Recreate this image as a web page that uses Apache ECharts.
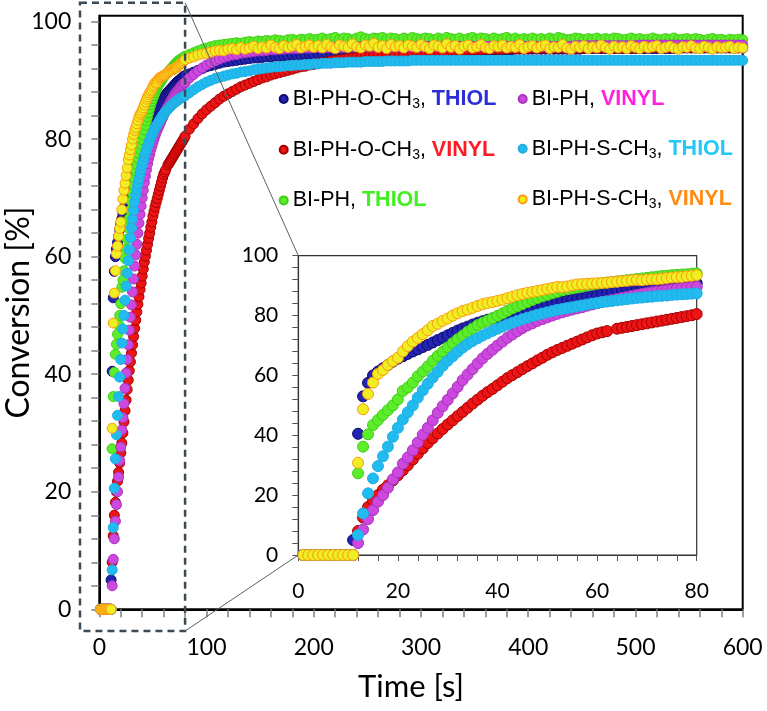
<!DOCTYPE html>
<html>
<head>
<meta charset="utf-8">
<script src="https://cdn.jsdelivr.net/npm/echarts@6/dist/echarts.min.js"></script>
<style>
html,body{margin:0;padding:0;background:#fff;}
#chart{width:767px;height:711px;}
</style>
</head>
<body>
<div id="chart"></div>
<script>
// ---------- DATA ----------
// sample times: 1..80 s every 1 s (zoomed region), then 84..600 s every 4 s
const timesEarly = [];
for (let t = 1; t <= 80; t++) timesEarly.push(t);
const timesLate = [];
for (let t = 84; t <= 600; t += 4) timesLate.push(t);

const seriesNames = ['BI-PH-O-CH3, THIOL','BI-PH-O-CH3, VINYL','BI-PH, THIOL','BI-PH, VINYL','BI-PH-S-CH3, THIOL','BI-PH-S-CH3, VINYL'];
const labelBase = ['BI-PH-O-CH','BI-PH-O-CH','BI-PH','BI-PH','BI-PH-S-CH','BI-PH-S-CH'];
const labelSub  = ['3','3','','','3','3'];
const labelTag  = ['THIOL','VINYL','THIOL','VINYL','THIOL','VINYL'];

const xTickLabels = [0,100,200,300,400,500,600];
const yTickLabels = [0,20,40,60,80,100];
const insetXTickLabels = [0,20,40,60,80];
const insetYTickLabels = [0,20,40,60,80,100];

// BI-PH-O-CH3, THIOL (blue)
const oThiolEarly = [0,0,0,0,0,0,0,0,0,0,5,40.5,53,57.5,60,61.3,62.4,63.5,64.6,65.6,66.4,67.2,68,68.7,69.5,70.2,71,71.8,72.6,73.4,74.2,75,75.7,76.3,77,77.6,78.1,78.6,79,79.4,79.8,80.2,80.7,81.1,81.6,82,82.5,82.9,83.3,83.7,84,84.3,84.6,84.9,85.2,85.5,85.8,86.2,86.5,86.9,87.2,87.5,87.8,88,88.2,88.4,88.6,88.8,89,89.2,89.4,89.6,89.8,89.9,90.1,90.2,90.4,90.5,90.7,90.8];
const oThiolLate = [91.1,91.4,91.7,92.0,92.3,92.5,92.7,92.9,93.1,93.2,
 93.3,93.4,93.5,93.6,93.7,93.8,93.8,93.9,94.0,94.0,94.1,94.1,94.2,94.2,94.3,94.3,94.3,94.4,94.4,94.4,
 94.5,94.5,94.5,94.6,94.6,94.6,94.6,94.7,94.7,94.7,94.7,94.7,94.8,94.8,94.8,94.8,94.8,94.9,94.9,94.9,94.9,94.9,94.9,95.0,95.0,
 95.0,95.0,95.0,95.0,95.1,95.1,95.1,95.1,95.1,95.1,95.1,95.1,95.2,95.2,95.2,95.2,95.2,95.2,95.2,95.2,95.2,95.3,95.3,95.3,95.3,
 95.3,95.3,95.3,95.3,95.3,95.3,95.3,95.3,95.3,95.3,95.3,95.3,95.4,95.4,95.4,95.4,95.4,95.4,95.4,95.4,95.4,95.4,95.4,95.4,95.4,
 95.4,95.4,95.4,95.4,95.4,95.4,95.4,95.4,95.4,95.4,95.5,95.5,95.5,95.5,95.5,95.5,95.5,95.5,95.5,95.5,95.5,95.5,95.5,95.5,95.5];

// BI-PH-O-CH3, VINYL (red)
const oVinylEarly = [0,0,0,0,0,0,0,0,0,0,0,8,12.5,16,18.2,20,21.8,23.3,24.9,26.6,28.3,30,31.9,33.8,35.6,37.4,39,40.6,42.1,43.6,45,46.4,47.8,49.2,50.6,51.9,53.2,54.4,55.5,56.7,57.9,59.1,60.1,61.1,62.1,63.1,64,65,65.9,66.9,67.7,68.5,69.2,69.9,70.6,71.3,72,72.7,73.4,74,74.4,74.8,null,75.6,75.9,76.2,76.5,76.8,77.1,77.4,77.7,78,78.3,78.6,78.9,79.2,79.5,79.8,80.1,80.5];
const oVinylLate = [81.7,82.6,83.5,84.3,85.0,85.6,86.2,86.8,87.3,87.7,
 88.1,88.5,88.9,89.2,89.5,89.8,90.1,90.4,90.6,90.9,91.1,91.3,91.5,91.7,91.9,92.1,92.3,92.4,92.6,92.7,
 92.9,93.0,93.1,93.3,93.4,93.5,93.6,93.7,93.8,93.9,94.0,94.0,94.1,94.2,94.3,94.3,94.4,94.5,94.5,94.6,94.6,94.7,94.7,94.8,94.8,
 94.9,94.9,94.9,95.0,95.0,95.0,95.1,95.1,95.1,95.1,95.2,95.2,95.2,95.2,95.3,95.3,95.3,95.3,95.3,95.4,95.4,95.4,95.4,95.4,95.4,
 95.5,95.5,95.5,95.5,95.5,95.5,95.5,95.5,95.5,95.5,95.5,95.5,95.5,95.5,95.5,95.5,95.5,95.5,95.5,95.5,95.5,95.5,95.5,95.5,95.5,
 95.6,95.6,95.6,95.6,95.6,95.6,95.6,95.6,95.6,95.6,95.6,95.6,95.6,95.6,95.6,95.6,95.6,95.6,95.6,95.6,95.6,95.6,95.6,95.6,95.6];

// BI-PH, THIOL (green)
const phThiolEarly = [0,0,0,0,0,0,0,0,0,0,0,27.3,36.2,40.3,43.4,45.1,46.8,48.4,50,52,54.8,56,57.6,59.7,61.3,63,64.9,66.5,67.9,69.4,70.8,72.1,73.3,74.6,75.7,76.8,77.6,78.3,79.1,79.9,80.7,81.6,82.4,83.1,83.8,84.5,85.2,85.8,86.4,86.9,87.4,87.9,88.4,88.8,89.1,89.4,89.7,90,90.3,90.6,90.8,91,91.2,91.4,91.6,91.8,92,92.2,92.4,92.6,92.8,93,93.2,93.3,93.5,93.6,93.7,93.8,94,94.1];
const phThiolLate = [94.4,94.7,95.0,95.3,95.5,95.7,95.9,96.0,96.1,96.2,
 96.3,96.4,96.3,96.5,96.6,96.5,96.7,96.6,96.8,96.7,96.9,96.8,96.7,96.9,97.0,96.8,97.0,96.9,97.1,96.9,
 97.0,97.2,96.9,97.1,97.3,97.0,97.2,97.1,96.9,97.2,97.4,97.1,97.0,97.2,97.1,97.3,97.0,97.2,97.1,96.9,97.2,97.0,97.3,97.1,97.0,
 97.2,97.1,96.9,97.2,97.0,97.3,97.1,97.0,97.2,96.9,97.1,97.3,97.0,97.2,97.1,96.9,97.2,97.0,97.1,97.3,97.0,97.2,96.9,97.1,97.0,
 97.2,97.0,97.1,96.9,97.2,97.0,97.3,97.1,96.9,97.0,97.2,97.1,96.9,97.1,97.0,97.2,96.9,97.1,97.0,97.2,97.1,96.9,97.0,97.2,97.0,
 97.1,96.9,97.0,97.2,97.0,96.9,97.1,97.0,97.2,96.9,97.0,97.1,96.9,97.1,97.0,96.8,97.0,97.1,96.9,97.0,96.8,97.0,96.9,97.0,96.9];

// BI-PH, VINYL (magenta)
const phVinylEarly = [0,0,0,0,0,0,0,0,0,0,0,4,8.5,12,15,17.8,20,22.5,25.3,27.6,30.5,32.6,35,37.6,40.2,42.5,45,47.5,49.7,51.8,54,56.2,58.4,60.3,62.1,64,65.7,67.2,68.6,70,71.3,72.6,73.7,74.8,75.8,76.7,77.4,78.2,78.8,79.4,80,80.6,81.1,81.6,82,82.4,82.8,83.3,83.7,84.1,84.5,84.8,85.2,85.5,85.9,86.2,86.6,86.9,87.2,87.5,87.8,88,88.2,88.5,88.7,88.9,89.1,89.3,89.5,89.6];
const phVinylLate = [90.4,91.0,91.6,92.1,92.6,93.0,93.3,93.6,93.9,94.1,
 94.3,94.4,94.6,94.7,94.8,94.9,95.0,95.0,95.1,95.2,95.2,95.3,95.3,95.4,95.4,95.4,95.5,95.5,95.5,95.6,
 95.6,95.6,95.6,95.6,95.6,95.6,95.6,95.6,95.7,95.7,95.7,95.7,95.7,95.7,95.7,95.7,95.7,95.7,95.7,95.7,95.7,95.7,95.7,95.7,95.7,
 95.8,95.8,95.8,95.8,95.8,95.8,95.8,95.8,95.8,95.8,95.8,95.8,95.8,95.8,95.8,95.8,95.8,95.8,95.8,95.8,95.8,95.8,95.8,95.8,95.8,
 95.8,95.8,95.8,95.8,95.8,95.8,95.8,95.8,95.8,95.8,95.9,95.9,95.9,95.9,95.9,95.9,95.9,95.9,95.9,95.9,95.9,95.9,95.9,95.9,95.9,
 96.0,96.0,96.0,96.0,96.0,96.0,96.0,96.0,96.0,96.0,96.0,96.0,96.0,96.0,96.0,96.0,96.0,96.0,96.0,96.0,96.0,96.0,96.0,96.0,96.0];

// BI-PH-S-CH3, THIOL (cyan)
const sThiolEarly = [0,0,0,0,0,0,0,0,0,0,0,6.7,13.9,20.6,25.6,29.7,33,36.2,39.5,42.5,45.3,47.7,50,52.6,55,57.2,59.3,61.2,63.2,64.9,66.4,67.9,69.3,70.5,71.5,72.4,73.3,74.1,74.9,75.6,76.3,77,77.6,78.2,78.8,79.3,79.8,80.3,80.7,81.1,81.5,81.9,82.2,82.5,82.8,83.1,83.4,83.7,84,84.2,84.5,84.7,84.9,85.1,85.3,85.5,85.7,85.9,86,86.2,86.3,86.5,86.6,86.7,86.9,87,87.1,87.2,87.3,87.4];
const sThiolLate = [87.9,88.4,88.9,89.3,89.7,90.0,90.3,90.5,90.7,90.9,
 91.1,91.2,91.4,91.5,91.6,91.8,91.9,92.0,92.1,92.2,92.3,92.3,92.4,92.5,92.5,92.6,92.6,92.7,92.7,92.8,
 92.8,92.9,92.9,92.9,93.0,93.0,93.0,93.1,93.1,93.1,93.1,93.2,93.2,93.2,93.2,93.2,93.3,93.3,93.3,93.3,93.3,93.3,93.4,93.4,93.4,
 93.4,93.4,93.4,93.4,93.4,93.4,93.4,93.4,93.4,93.4,93.4,93.4,93.4,93.4,93.4,93.4,93.4,93.4,93.4,93.4,93.4,93.4,93.4,93.4,93.4,
 93.4,93.4,93.4,93.4,93.4,93.4,93.4,93.4,93.4,93.4,93.4,93.4,93.4,93.4,93.4,93.4,93.4,93.4,93.4,93.4,93.4,93.4,93.4,93.4,93.4,
 93.4,93.4,93.4,93.4,93.4,93.4,93.4,93.4,93.4,93.4,93.4,93.4,93.4,93.4,93.4,93.4,93.4,93.4,93.4,93.4,93.4,93.4,93.4,93.4,93.4];

// BI-PH-S-CH3, VINYL (yellow/orange)
const sVinylEarly = [0,0,0,0,0,0,0,0,0,0,0,30.8,48.7,53.8,57.6,60.5,61.8,63.5,64.8,65.9,68,69.8,71.3,72.5,73.8,75.1,76.5,77.3,78.2,79,80,80.8,81.5,82,82.6,83.2,83.8,84.2,84.5,84.9,85.3,85.8,86.3,86.8,87.2,87.6,87.9,88.2,88.5,88.9,89.2,89.6,89.5,89.7,90.1,90.4,90.5,90.6,90.7,90.8,90.9,91,91.2,91.3,91.5,91.6,91.8,91.9,91.8,92,92.1,92.1,92.3,92.5,92.7,92.8,92.9,93.1,93.3,93.5];
const sVinylLate = [93.8,94.0,94.3,94.5,94.6,94.8,95.0,95.1,95.0,95.3,
 95.4,95.2,95.6,95.3,95.5,95.8,95.4,95.7,95.5,96.0,95.6,95.4,95.9,95.6,95.8,96.1,95.5,95.8,96.0,95.6,
 95.9,95.5,96.1,95.7,95.4,96.0,95.8,95.6,96.2,95.7,95.5,96.0,95.8,96.3,95.6,95.9,95.4,96.1,95.7,95.9,95.5,96.0,95.8,95.6,96.1,
 95.7,95.4,96.0,95.8,95.5,96.2,95.6,95.9,95.3,95.8,96.0,95.5,95.7,96.1,95.6,95.4,95.9,95.7,96.0,95.5,95.8,95.6,96.1,95.4,95.7,
 95.9,95.5,95.8,96.0,95.4,95.7,95.6,96.1,95.5,95.3,95.8,95.6,95.9,95.4,95.7,95.5,96.0,95.6,95.3,95.8,95.5,95.7,95.4,95.9,95.6,
 95.4,95.8,95.5,95.7,95.9,95.4,95.6,95.8,95.5,95.3,95.7,95.6,95.9,95.5,95.4,95.8,95.6,95.3,95.7,95.5,95.6,95.8,95.4,95.6,95.5];

const earlyValues = [oThiolEarly, oVinylEarly, phThiolEarly, phVinylEarly, sThiolEarly, sVinylEarly];
const lateValues  = [oThiolLate, oVinylLate, phThiolLate, phVinylLate, sThiolLate, sVinylLate];

// ---------- STYLE ----------
const fills   = ['#2424b4','#ec1414','#5cee2a','#cc48de','#22bbef','#eeee22'];
const borders = ['#0c0c6a','#a40000','#44cc18','#a832bc','#1eaee4','#ff9a10'];
const tagColors = ['#2e2ed8','#ff1a22','#44ee22','#ff22dd','#22c8f6','#ff8c14'];
const AXFONT = 'Lato, "Open Sans", sans-serif';
const LEGFONT = '"Liberation Sans", Arial, sans-serif';

// zoom-box decoration (data coords in main plot)
const boxT = [-18, 80], boxV = [-3.7, 103.2];

function pairs(times, vals) {
  const out = [];
  for (let i = 0; i < times.length; i++) if (vals[i] !== null && vals[i] !== undefined) out.push([times[i], vals[i]]);
  return out;
}
function range(a, b, s) { const r = []; for (let v = a; v <= b + 1e-9; v += s) r.push(v); return r; }

const rich = {
  b: { fontSize: 21.5, lineHeight: 24, color: '#000', fontFamily: LEGFONT },
  s: { fontSize: 14, lineHeight: 14, verticalAlign: 'bottom', color: '#000', fontFamily: LEGFONT }
};
tagColors.forEach((c, i) => {
  rich['t' + i] = { fontSize: 21.5, lineHeight: 24, color: c, fontWeight: 'bold', fontFamily: LEGFONT };
});
function legendFormatter(name) {
  const i = seriesNames.indexOf(name);
  let s = '{b|' + labelBase[i] + '}';
  if (labelSub[i]) s += '{s|' + labelSub[i] + '}';
  s += '{b|, }{t' + i + '|' + labelTag[i] + '}';
  return s;
}

const series = [];
seriesNames.forEach((name, i) => {
  const all = pairs(timesEarly, earlyValues[i]).concat(pairs(timesLate, lateValues[i]));
  series.push({
    name, type: 'scatter', xAxisIndex: 0, yAxisIndex: 0, data: all,
    symbol: 'circle', symbolSize: 10, clip: false, z: 2,
    itemStyle: { color: fills[i], borderColor: borders[i], borderWidth: 1, opacity: 1 },
    emphasis: { disabled: true }, animation: false
  });
});
seriesNames.forEach((name, i) => {
  series.push({
    name, type: 'scatter', xAxisIndex: 1, yAxisIndex: 1, data: pairs(timesEarly, earlyValues[i]),
    symbol: 'circle', symbolSize: 11, clip: false, z: 10,
    itemStyle: { color: fills[i], borderColor: borders[i], borderWidth: 1, opacity: 1 },
    emphasis: { disabled: true }, animation: false
  });
});

const chart = echarts.init(document.getElementById('chart'), null, { renderer: 'canvas' });
const legendCommon = {
  orient: 'vertical', top: 88, padding: 0, itemGap: 27.7, itemWidth: 8, itemHeight: 8,
  icon: 'circle', selectedMode: false, formatter: legendFormatter,
  textStyle: { rich: rich, fontSize: 21.5, fontFamily: LEGFONT }
};
chart.setOption({
  animation: false,
  backgroundColor: '#fff',
  grid: [
    { left: 99.3, top: 15.7, right: 24.3, bottom: 101.7, show: true, borderColor: '#000', borderWidth: 2,
      backgroundColor: 'transparent', containLabel: false, outerBoundsMode: 'none' },
    { left: 298.3, top: 255.7, right: 70.3, bottom: 156, show: true, borderColor: '#333', borderWidth: 1.2,
      backgroundColor: '#fff', z: 3, containLabel: false, outerBoundsMode: 'none' }
  ],
  legend: [
    Object.assign({ left: 278.7, data: seriesNames.slice(0, 3) }, legendCommon),
    Object.assign({ left: 517.7, data: seriesNames.slice(3, 6) }, legendCommon)
  ],
  xAxis: [
    { type: 'value', gridIndex: 0, min: 0, max: 600,
      name: 'Time [s]', nameLocation: 'middle', nameGap: 62, nameMoveOverlap: false,
      nameTextStyle: { fontSize: 31, fontFamily: AXFONT, color: '#000', padding: [0, 20, 0, 0] },
      axisLine: { show: true, onZero: false, lineStyle: { color: '#000', width: 2 } },
      axisTick: { show: true, customValues: range(0, 600, 20), length: 8, lineStyle: { color: '#808080', width: 1.5 } },
      axisLabel: { customValues: xTickLabels, fontSize: 23, fontFamily: AXFONT, color: '#000', margin: 27 },
      splitLine: { show: false } },
    { type: 'value', gridIndex: 1, min: 0, max: 80,
      axisLine: { show: true, onZero: false, lineStyle: { color: '#333', width: 1.2 } },
      axisTick: { show: true, customValues: range(0, 80, 4), length: 6, lineStyle: { color: '#555', width: 1 } },
      axisLabel: { customValues: insetXTickLabels, fontSize: 21, fontFamily: AXFONT, color: '#000', margin: 26 },
      splitLine: { show: false }, z: 3 }
  ],
  yAxis: [
    { type: 'value', gridIndex: 0, min: 0, max: 101,
      name: 'Conversion [%]', nameLocation: 'middle', nameGap: 65, nameRotate: 90, nameMoveOverlap: false,
      nameTextStyle: { fontSize: 32, fontFamily: AXFONT, color: '#000' },
      axisLine: { show: true, onZero: false, lineStyle: { color: '#000', width: 2 } },
      axisTick: { show: true, customValues: range(0, 100, 4), length: 8, lineStyle: { color: '#808080', width: 1.5 } },
      axisLabel: { customValues: yTickLabels, fontSize: 23, fontFamily: AXFONT, color: '#000', margin: 28 },
      splitLine: { show: false } },
    { type: 'value', gridIndex: 1, min: 0, max: 100,
      axisLine: { show: true, onZero: false, lineStyle: { color: '#333', width: 1.2 } },
      axisTick: { show: true, customValues: range(0, 100, 4), length: 6, lineStyle: { color: '#555', width: 1 } },
      axisLabel: { customValues: insetYTickLabels, fontSize: 21, fontFamily: AXFONT, color: '#000', margin: 20 },
      splitLine: { show: false }, z: 3 }
  ],
  series: series
});

// zoom box + connector lines, positioned through the axes
const pTL = chart.convertToPixel({ gridIndex: 0 }, [boxT[0], boxV[1]]);
const pBR = chart.convertToPixel({ gridIndex: 0 }, [boxT[1], boxV[0]]);
const iTL = chart.convertToPixel({ gridIndex: 1 }, [0, 100]);
const iBL = chart.convertToPixel({ gridIndex: 1 }, [0, 0]);
chart.setOption({
  graphic: [
    { type: 'rect', z: 100, silent: true,
      shape: { x: pTL[0], y: pTL[1], width: pBR[0] - pTL[0], height: pBR[1] - pTL[1] },
      style: { fill: null, stroke: '#3b4a55', lineWidth: 2.5, lineDash: [7, 5] } },
    { type: 'line', z: 100, silent: true,
      shape: { x1: pBR[0], y1: pTL[1], x2: iTL[0], y2: iTL[1] },
      style: { stroke: '#5a6268', lineWidth: 1 } },
    { type: 'line', z: 100, silent: true,
      shape: { x1: pBR[0], y1: pBR[1], x2: iBL[0], y2: iBL[1] },
      style: { stroke: '#5a6268', lineWidth: 1 } }
  ]
});
</script>
</body>
</html>
